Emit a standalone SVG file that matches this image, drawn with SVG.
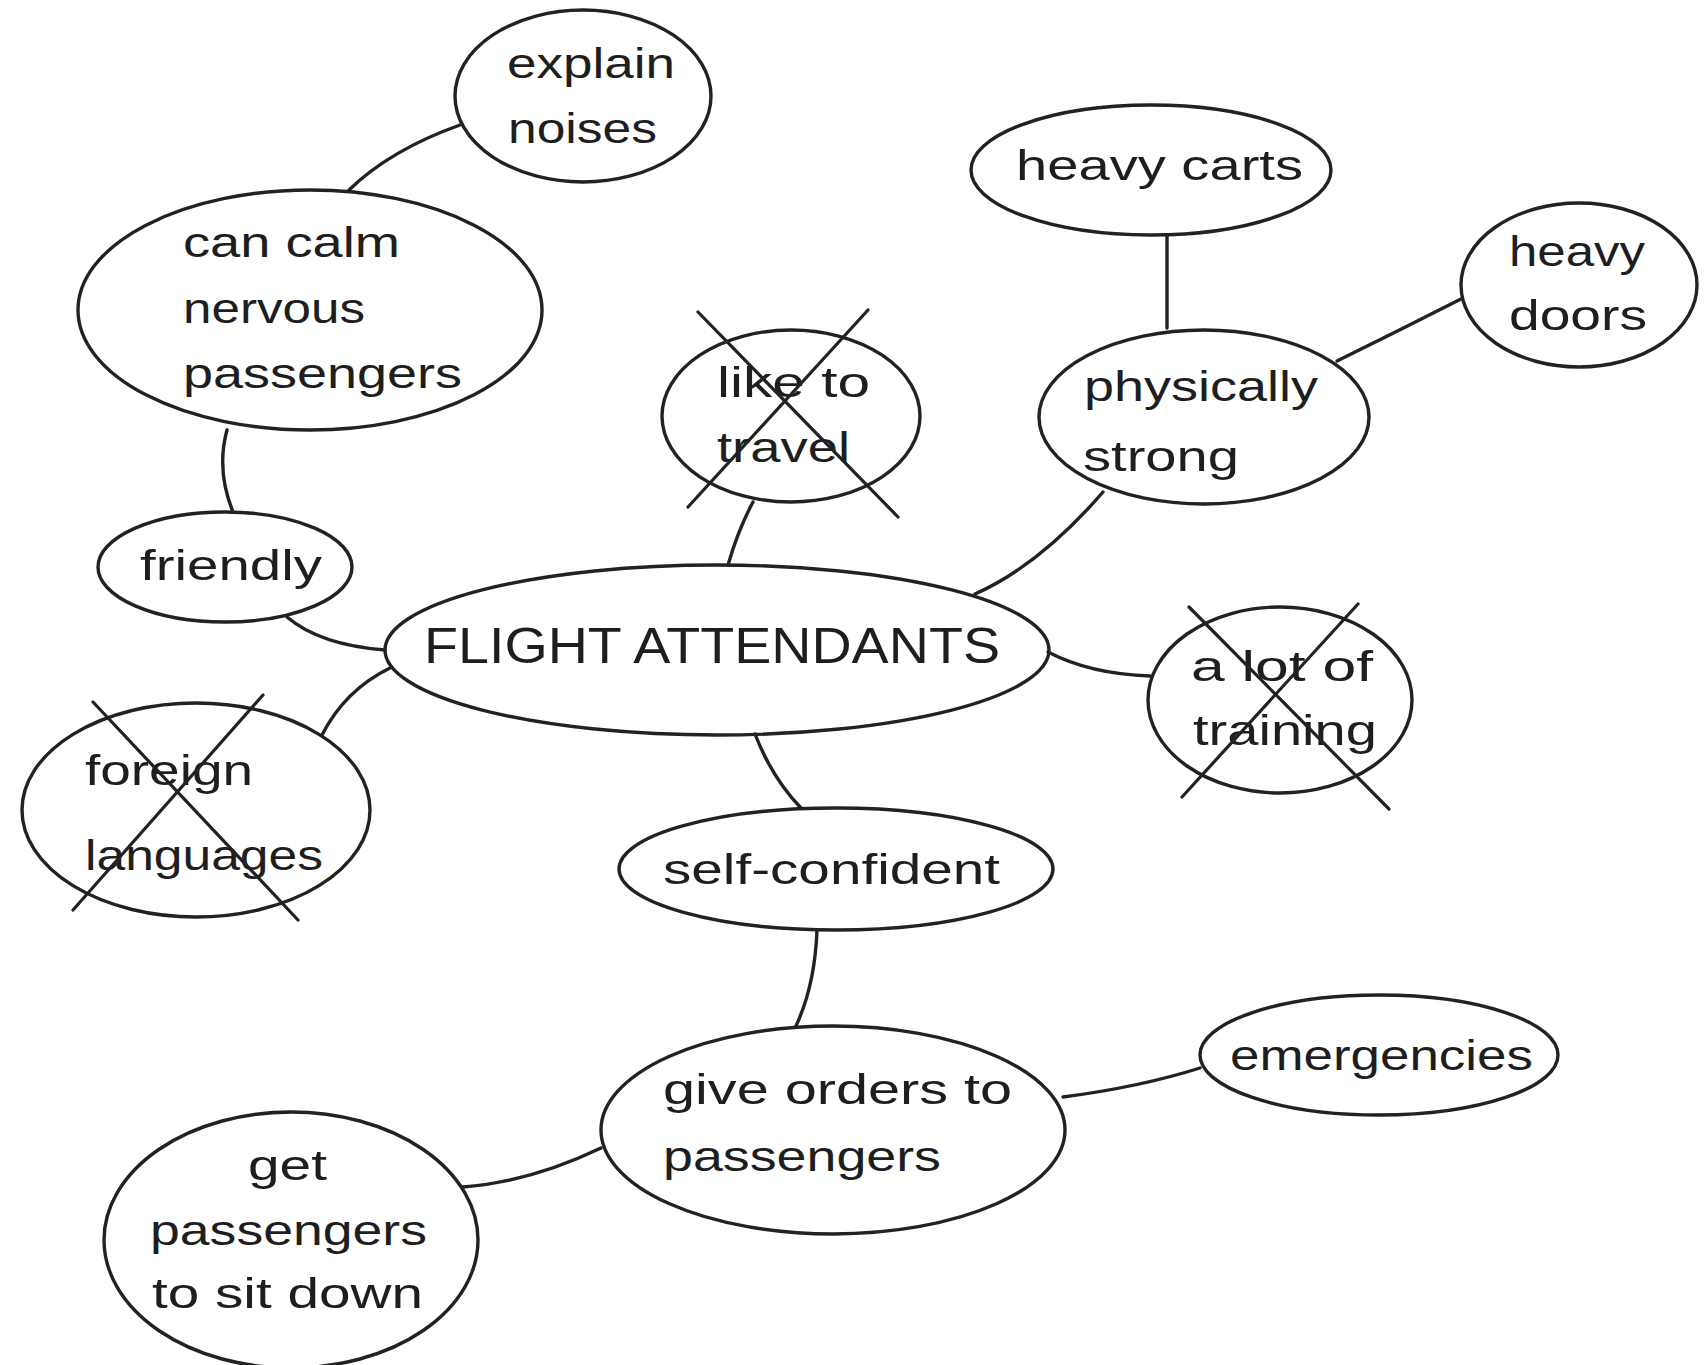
<svg xmlns="http://www.w3.org/2000/svg" width="1708" height="1365" viewBox="0 0 1708 1365">
<style>
.n{fill:none;stroke:#222;stroke-width:3.4}
.c{fill:none;stroke:#222;stroke-width:3.4;stroke-linecap:round}
.x{stroke:#222;stroke-width:3.2;stroke-linecap:round}
text{font-family:"Liberation Sans",Arial,sans-serif;font-size:42px;fill:#1e1e1e}
.big{font-size:50px}
</style>
<rect width="1708" height="1365" fill="#fff"/>
<g id="connectors">
<path class="c" d="M349,190 Q390,150 460,125"/>
<path class="c" d="M227,430 Q216,470 233,512"/>
<path class="c" d="M287,617 Q320,645 385,650"/>
<path class="c" d="M390,668 Q345,690 322,735"/>
<path class="c" d="M753,502 Q738,530 728,565"/>
<path class="c" d="M975,594 Q1040,565 1103,492"/>
<path class="c" d="M1167,235 L1167,328"/>
<path class="c" d="M1337,361 Q1400,330 1461,299"/>
<path class="c" d="M1048,652 Q1090,674 1150,676"/>
<path class="c" d="M755,734 Q772,778 801,808"/>
<path class="c" d="M817,930 Q815,985 796,1026"/>
<path class="c" d="M1063,1097 Q1140,1087 1200,1068"/>
<path class="c" d="M601,1148 Q530,1182 463,1187"/>
</g>
<g id="explain-noises">
<ellipse class="n" cx="583" cy="96" rx="128" ry="86"/>
<text x="507" y="78" textLength="168" lengthAdjust="spacingAndGlyphs">explain</text>
<text x="508" y="143" textLength="149" lengthAdjust="spacingAndGlyphs">noises</text>
</g>
<g id="can-calm">
<ellipse class="n" cx="310" cy="310" rx="232" ry="120"/>
<text x="183" y="257" textLength="217" lengthAdjust="spacingAndGlyphs">can calm</text>
<text x="183" y="323" textLength="182" lengthAdjust="spacingAndGlyphs">nervous</text>
<text x="183" y="388" textLength="279" lengthAdjust="spacingAndGlyphs">passengers</text>
</g>
<g id="friendly">
<ellipse class="n" cx="225" cy="567" rx="127" ry="55"/>
<text x="140" y="580" textLength="182" lengthAdjust="spacingAndGlyphs">friendly</text>
</g>
<g id="like-to-travel">
<ellipse class="n" cx="791" cy="416" rx="129" ry="86"/>
<text x="717" y="397" textLength="153" lengthAdjust="spacingAndGlyphs">like to</text>
<text x="717" y="462" textLength="133" lengthAdjust="spacingAndGlyphs">travel</text>
<line class="x" x1="698" y1="312" x2="898" y2="517"/>
<line class="x" x1="868" y1="310" x2="688" y2="507"/>
</g>
<g id="heavy-carts">
<ellipse class="n" cx="1151" cy="170" rx="180" ry="65"/>
<text x="1016" y="180" textLength="287" lengthAdjust="spacingAndGlyphs">heavy carts</text>
</g>
<g id="physically-strong">
<ellipse class="n" cx="1204" cy="417" rx="165" ry="87"/>
<text x="1084" y="401" textLength="234" lengthAdjust="spacingAndGlyphs">physically</text>
<text x="1083" y="471" textLength="156" lengthAdjust="spacingAndGlyphs">strong</text>
</g>
<g id="heavy-doors">
<ellipse class="n" cx="1579" cy="285" rx="118" ry="82"/>
<text x="1509" y="266" textLength="136" lengthAdjust="spacingAndGlyphs">heavy</text>
<text x="1509" y="330" textLength="138" lengthAdjust="spacingAndGlyphs">doors</text>
</g>
<g id="flight-attendants">
<ellipse class="n" cx="717" cy="650" rx="332" ry="85"/>
<text class="big" x="424" y="663" textLength="576" lengthAdjust="spacingAndGlyphs">FLIGHT ATTENDANTS</text>
</g>
<g id="a-lot-of-training">
<ellipse class="n" cx="1280" cy="700" rx="132" ry="93"/>
<text x="1191" y="681" textLength="182" lengthAdjust="spacingAndGlyphs">a lot of</text>
<text x="1193" y="745" textLength="184" lengthAdjust="spacingAndGlyphs">training</text>
<line class="x" x1="1189" y1="607" x2="1389" y2="809"/>
<line class="x" x1="1358" y1="604" x2="1182" y2="797"/>
</g>
<g id="foreign-languages">
<ellipse class="n" cx="196" cy="810" rx="174" ry="107"/>
<text x="85" y="785" textLength="168" lengthAdjust="spacingAndGlyphs">foreign</text>
<text x="85" y="870" textLength="238" lengthAdjust="spacingAndGlyphs">languages</text>
<line class="x" x1="93" y1="702" x2="298" y2="920"/>
<line class="x" x1="263" y1="695" x2="73" y2="910"/>
</g>
<g id="self-confident">
<ellipse class="n" cx="836" cy="869" rx="217" ry="61"/>
<text x="663" y="884" textLength="337" lengthAdjust="spacingAndGlyphs">self-confident</text>
</g>
<g id="give-orders">
<ellipse class="n" cx="833" cy="1130" rx="232" ry="104"/>
<text x="663" y="1104" textLength="349" lengthAdjust="spacingAndGlyphs">give orders to</text>
<text x="663" y="1171" textLength="278" lengthAdjust="spacingAndGlyphs">passengers</text>
</g>
<g id="emergencies">
<ellipse class="n" cx="1379" cy="1055" rx="179" ry="60"/>
<text x="1230" y="1070" textLength="303" lengthAdjust="spacingAndGlyphs">emergencies</text>
</g>
<g id="get-passengers">
<ellipse class="n" cx="291" cy="1240" rx="187" ry="128"/>
<text x="248" y="1180" textLength="79" lengthAdjust="spacingAndGlyphs">get</text>
<text x="150" y="1245" textLength="277" lengthAdjust="spacingAndGlyphs">passengers</text>
<text x="152" y="1308" textLength="271" lengthAdjust="spacingAndGlyphs">to sit down</text>
</g>
</svg>
